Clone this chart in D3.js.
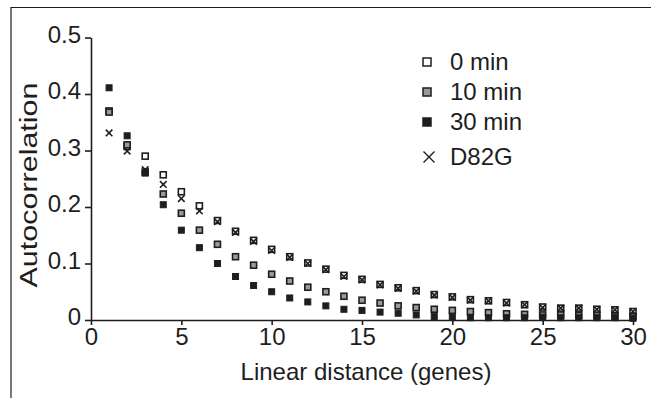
<!DOCTYPE html>
<html><head><meta charset="utf-8">
<script src="https://cdn.jsdelivr.net/npm/d3@7"></script>
<style>html,body{margin:0;padding:0;background:#fff;}svg{display:block;}</style>
</head><body>
<script>
const distance = [1,2,3,4,5,6,7,8,9,10,11,12,13,14,15,16,17,18,19,20,21,22,23,24,25,26,27,28,29,30];
const min0  = [0.370,0.307,0.290,0.257,0.227,0.202,0.176,0.157,0.141,0.125,0.112,0.101,0.090,0.079,0.072,0.063,0.057,0.052,0.045,0.041,0.036,0.034,0.031,0.027,0.023,0.021,0.021,0.019,0.018,0.015];
const min10 = [0.368,0.310,0.262,0.223,0.189,0.159,0.134,0.112,0.097,0.081,0.069,0.058,0.050,0.042,0.035,0.030,0.025,0.022,0.019,0.017,0.015,0.013,0.011,0.010,0.009,0.009,0.008,0.008,0.007,0.006];
const min30 = [0.411,0.326,0.260,0.204,0.159,0.128,0.100,0.077,0.061,0.050,0.039,0.032,0.025,0.019,0.017,0.014,0.012,0.009,0.006,0.005,0.004,0.004,0.004,0.004,0.005,0.004,0.004,0.004,0.004,0.003];
const d82g  = [0.331,0.299,0.266,0.240,0.215,0.193,0.174,0.155,0.139,0.123,0.111,0.100,0.089,0.077,0.071,0.062,0.056,0.051,0.044,0.040,0.035,0.034,0.030,0.027,0.022,0.021,0.021,0.019,0.018,0.015];
const xTicks = [0,5,10,15,20,25,30];
const yTicks = [0,0.1,0.2,0.3,0.4,0.5];
const yTickLabels = ["0","0.1","0.2","0.3","0.4","0.5"];
const seriesNames = ["0 min","10 min","30 min","D82G"];

const W = 651, H = 398;
const ink = "#1e1e1e";
const font = "'Liberation Sans', Arial, Helvetica, sans-serif";
const svg = d3.select("body").append("svg").attr("width", W).attr("height", H);

// frame
svg.append("path").attr("d", `M11,398 V7.5 H651`).attr("fill","none").attr("stroke",ink).attr("stroke-width",1.2);

const x = d3.scaleLinear().domain([0,30]).range([91,633]);
const y = d3.scaleLinear().domain([0,0.5]).range([320,37.5]);

const xAxis = svg.append("g").attr("transform","translate(0,320)")
  .call(d3.axisBottom(x).tickValues(xTicks).tickSize(5).tickPadding(3).tickSizeOuter(0));
const yAxis = svg.append("g").attr("transform","translate(91,0)")
  .call(d3.axisLeft(y).tickValues(yTicks).tickFormat((d,i)=>yTickLabels[i]).tickSize(6).tickPadding(4).tickSizeOuter(0));
[xAxis,yAxis].forEach(g=>{
  g.select(".domain").attr("stroke",ink).attr("stroke-width",1.6);
  g.selectAll(".tick line").attr("stroke",ink).attr("stroke-width",1.6);
  g.selectAll(".tick text").attr("fill",ink).style("font-family",font).style("font-size","24px");
});
yAxis.selectAll(".tick text").attr("dy","0.2em");

svg.append("text").attr("x",366).attr("y",380).attr("text-anchor","middle")
  .attr("fill",ink).style("font-family",font).style("font-size","24px").text("Linear distance (genes)");
svg.append("text").attr("transform","translate(37,185) rotate(-90)").attr("text-anchor","middle")
  .attr("fill",ink).style("font-family",font).style("font-size","23px")
  .attr("textLength",205).attr("lengthAdjust","spacingAndGlyphs").text("Autocorrelation");

const S = 6;
function square(g, data, fill, sw){
  g.selectAll("rect").data(data).join("rect")
    .attr("x",(d,i)=>x(distance[i])-S/2).attr("y",d=>y(d)-S/2)
    .attr("width",S).attr("height",S)
    .attr("fill",fill).attr("stroke",ink).attr("stroke-width",sw);
}
function cross(g, data){
  const h = 3.3;
  g.selectAll("path").data(data).join("path")
    .attr("d",(d,i)=>{const cx=x(distance[i]), cy=y(d);
      return `M${cx-h},${cy-h}L${cx+h},${cy+h}M${cx-h},${cy+h}L${cx+h},${cy-h}`;})
    .attr("stroke",ink).attr("stroke-width",1.6).attr("fill","none");
}
square(svg.append("g"), min0, "#fff", 1.6);
square(svg.append("g"), min10, "#9a9a9a", 1.6);
square(svg.append("g"), min30, ink, 1);
cross(svg.append("g"), d82g);

// legend
const lg = svg.append("g");
const ly = [62,92,122,157];
const LS = 8;
const fills = ["#fff","#9a9a9a",ink];
fills.forEach((f,i)=>{
  lg.append("rect").attr("x",427-LS/2).attr("y",ly[i]-LS/2).attr("width",LS).attr("height",LS)
    .attr("fill",f).attr("stroke",ink).attr("stroke-width",1.5);
});
{const h=5.5, cx=429, cy=ly[3];
 lg.append("path").attr("d",`M${cx-h},${cy-h}L${cx+h},${cy+h}M${cx-h},${cy+h}L${cx+h},${cy-h}`)
   .attr("stroke",ink).attr("stroke-width",1.4);}
seriesNames.forEach((s,i)=>{
  lg.append("text").attr("x",450).attr("y",ly[i]).attr("dy","0.35em")
    .attr("fill",ink).style("font-family",font).style("font-size","24px").text(s);
});
</script>
</body></html>
